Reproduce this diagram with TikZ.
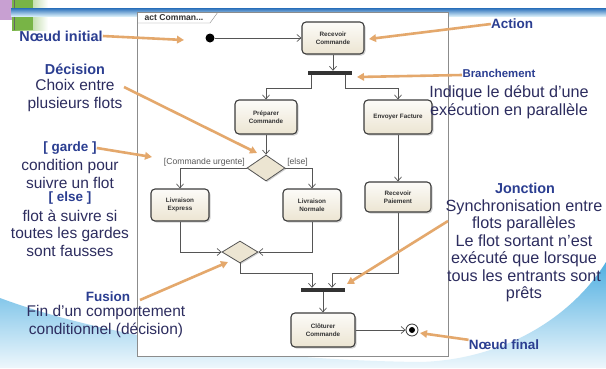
\documentclass[tikz,border=0pt]{standalone}
\usepackage{fontspec}
\setmainfont{Liberation Sans}
\usetikzlibrary{arrows.meta,shapes.geometric,shadows,positioning}

\definecolor{titleblue}{RGB}{43,62,145}
\definecolor{bodyblue}{RGB}{45,45,95}
\definecolor{callorange}{RGB}{228,168,108}
\definecolor{boxfill}{RGB}{236,229,210}
\definecolor{boxedge}{RGB}{60,60,60}
\definecolor{flowgray}{RGB}{85,85,85}
\definecolor{wave}{RGB}{80,175,225}
\definecolor{bandblue}{RGB}{40,110,185}
\definecolor{leafgreen}{RGB}{120,180,70}
\definecolor{lilac}{RGB}{200,160,210}

\begin{document}
\begin{tikzpicture}[
    x=1pt, y=-1pt,
    action/.style={draw=boxedge, line width=1.1pt, rounded corners=4pt,
        top color=white!85!boxfill, bottom color=boxfill, text=black!80,
        minimum width=62pt, minimum height=32pt, align=center, inner sep=1pt,
        font=\fontsize{6.3}{8}\selectfont\bfseries,
        drop shadow={shadow xshift=1.5pt, shadow yshift=-1.5pt, opacity=0.35}},
    choice/.style={diamond, draw=flowgray, line width=0.8pt, fill=boxfill,
        minimum width=38pt, minimum height=26pt, inner sep=0pt,
        drop shadow={shadow xshift=1.2pt, shadow yshift=-1.2pt, opacity=0.35}},
    bar/.style={fill=black!80, minimum width=44pt, minimum height=4pt, inner sep=0pt},
    flow/.style={draw=flowgray, line width=0.7pt, -{Straight Barb[length=4pt,width=7pt]}},
    guard/.style={font=\fontsize{8.6}{10}\selectfont, text=black!65, inner sep=1.5pt},
    call/.style={draw=callorange, line width=2.6pt, -{Triangle[length=7pt,width=7.5pt]}},
    title/.style={font=\fontsize{13.5}{17}\selectfont\bfseries, text=titleblue, inner sep=0pt},
    bigtitle/.style={title, font=\fontsize{14.4}{17}\selectfont\bfseries},
    note/.style={font=\fontsize{15.5}{17.5}\selectfont, text=bodyblue, align=center, inner sep=0pt},
    bignote/.style={note, font=\fontsize{16.2}{17.5}\selectfont}
]
    \useasboundingbox (0,0) rectangle (606,368);

    % Slide background
    \fill[white] (0,0) rectangle (606,368);
    \shade[left color=leafgreen, right color=white] (12,0) rectangle (48,30);
    \fill[leafgreen] (12,0) rectangle (33,30);
    \fill[lilac] (0,0) rectangle (12,20);
    \draw[black!60, line width=1pt] (14,0) -- (14,30);
    \shade[top color=bandblue, bottom color=wave!25] (11,8) rectangle (606,16);
    \shade[top color=wave, bottom color=wave!10]
        (0,298) .. controls (100,335) and (250,360) .. (420,362)
        .. controls (500,360) and (570,320) .. (606,262) -- (606,368) -- (0,368) -- cycle;

    % Activity frame
    \draw[black!45, fill=white] (137,12) rectangle (448,356);
    \draw[black!45] (137,23) -- (210,23) -- (218,12);
    \node[font=\fontsize{8.6}{10}\selectfont\bfseries, text=black!80] (tab) at (174,17.5) {act Comman...};

    % Actions
    \node[circle, fill=black, minimum size=9pt, inner sep=0pt] (init) at (210,38) {};
    \node[action] (recv) at (333,38) {Recevoir\\Commande};
    \node[bar] (fork) at (330,73) {};
    \node[action, minimum height=34pt] (prep) at (266,117) {Préparer\\Commande};
    \node[action, minimum width=68pt, minimum height=34pt] (envoi) at (398,117) {Envoyer Facture};
    \node[choice] (dec) at (266,168) {};
    \node[action, minimum width=58pt] (express) at (180,205) {Livraison\\Express};
    \node[action, minimum width=58pt] (normale) at (312,205) {Livraison\\Normale};
    \node[action, minimum width=66pt, minimum height=30pt] (paie) at (398,197) {Recevoir\\Paiement};
    \node[choice, minimum width=36pt, minimum height=22pt] (merge) at (240,252) {};
    \node[bar] (join) at (323,290) {};
    \node[action, minimum width=64pt, minimum height=34pt] (clot) at (323,330) {Clôturer\\Commande};
    \node[circle, draw=black!80, line width=0.8pt, minimum size=12pt, inner sep=0pt] (final) at (412,330) {};
    \fill[black] (final) circle (3pt);

    % Flows
    \draw[flow] (init) -- (recv.west);
    \draw[flow] (recv.south) -- (recv.south |- fork.north);
    \draw[flow] ([xshift=4pt]fork.south west) -- ++(0,13) -| (prep.north);
    \draw[flow] ([xshift=-7pt]fork.south east) -- ++(0,13) -| (envoi.north);
    \draw[flow] (prep) -- (dec);
    \draw[flow] (dec.west) node[guard, anchor=south east] {[Commande urgente]} -| (express.north);
    \draw[flow] (dec.east) node[guard, anchor=south west] {[else]} -| (normale.north);
    \draw[flow] (envoi) -- (paie);
    \draw[flow] (express.south) |- (merge.west);
    \draw[flow] (normale.south) |- (merge.east);
    \draw[flow] (merge.south) -- ++(0,10) -| ([xshift=-11pt]join.north);
    \draw[flow] (paie.south) -- ++(0,61) -| ([xshift=9pt]join.north);
    \draw[flow] (join.south) -- (clot.north);
    \draw[flow] (clot.east) -- (final.west);

    % Notes
    \node[bigtitle] (tInit) at (61,36) {Nœud initial};
    \node[title] (tAction) at (512,24) {Action};
    \node[bigtitle] (tDec) at (75,69) {Décision};
    \node[note] (tDecTxt) at (75,95.5) {Choix entre\\plusieurs flots};
    \node[title, font=\fontsize{11.4}{14}\selectfont\bfseries] (tBranch) at (499,73) {Branchement};
    \node[bignote] (tBranchTxt) at (509,102) {Indique le début d’une\\exécution en parallèle};
    \node[title] (tGarde) at (70,148) {[ garde ]};
    \node[note] (tGardeTxt) at (70,174) {condition pour\\suivre un flot};
    \node[title] (tElse) at (70,198) {[ else ]};
    \node[note] (tElseTxt) at (70,233) {flot à suivre si\\toutes les gardes\\sont fausses};
    \node[bigtitle] (tJonc) at (525,188) {Jonction};
    \node[bignote] (tJoncTxt) at (524,251) {Synchronisation entre\\flots parallèles\\Le flot sortant n’est\\exécuté que lorsque\\tous les entrants sont\\prêts};
    \node[title] (tFus) at (108,297) {Fusion};
    \node[note] (tFusTxt) at (106,321.5) {Fin d’un comportement\\conditionnel (décision)};
    \node[title] (tFinal) at (504,345) {Nœud final};

    % Callout arrows
    \coordinate (pInit) at (184,40);
    \coordinate (pAction) at (369,39);
    \coordinate (pDecA) at (124,87);
    \coordinate (pDec) at (257,153);
    \coordinate (pBranchA) at (462,75);
    \coordinate (pBranch) at (357,77);
    \coordinate (pGarde) at (152,157);
    \coordinate (pJoncA) at (448,221);
    \coordinate (pJonc) at (347,284);
    \coordinate (pFinal) at (420,333);
    \coordinate (pFusA) at (140,300);
    \coordinate (pFus) at (228,262);
    \draw[call] (tInit.east) -- (pInit);
    \draw[call] (tAction.west) -- (pAction);
    \draw[call] (pDecA) -- (pDec);
    \draw[call] (pBranchA) -- (pBranch);
    \draw[call] (tGarde.east) -- (pGarde);
    \draw[call] (pJoncA) -- (pJonc);
    \draw[call] (tFinal.north west) -- (pFinal);
    \draw[call] (pFusA) -- (pFus);
\end{tikzpicture}
\end{document}
